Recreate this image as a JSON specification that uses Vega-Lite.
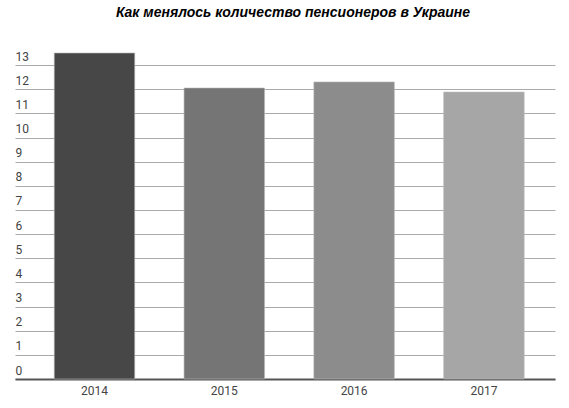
{
  "$schema": "https://vega.github.io/schema/vega-lite/v6.json",
  "autosize": {"type": "none"},
  "width": 540,
  "height": 326,
  "padding": {"left": 15, "top": 53, "right": 14, "bottom": 29},
  "background": "white",
  "title": {
    "text": "Как менялось количество пенсионеров в Украине",
    "font": "Liberation Sans",
    "fontSize": 14,
    "fontWeight": "bold",
    "fontStyle": "italic",
    "color": "#000000",
    "anchor": "middle",
    "offset": 30,
    "dx": 8
  },
  "data": {
    "values": [
      {"year": "2014", "value": 13.5, "shade": "a"},
      {"year": "2015", "value": 12.05, "shade": "b"},
      {"year": "2016", "value": 12.3, "shade": "c"},
      {"year": "2017", "value": 11.88, "shade": "d"}
    ]
  },
  "config": {"view": {"stroke": null}},
  "mark": {"type": "bar", "stroke": "#b8b8b8", "strokeWidth": 1, "strokeOpacity": 0.6},
  "encoding": {
    "x": {
      "field": "year",
      "type": "nominal",
      "scale": {"paddingInner": 0.38, "paddingOuter": 0.27, "align": 0.56},
      "axis": {
        "title": null,
        "labelAngle": 0,
        "ticks": false,
        "domain": true,
        "domainColor": "#555555",
        "domainWidth": 2,
        "labelFont": "Roboto",
        "labelFontSize": 12,
        "labelColor": "#444444",
        "labelPadding": 6
      }
    },
    "y": {
      "field": "value",
      "type": "quantitative",
      "scale": {"domain": [0, 13.5], "nice": false},
      "axis": {
        "title": null,
        "values": [0, 1, 2, 3, 4, 5, 6, 7, 8, 9, 10, 11, 12, 13],
        "domain": false,
        "ticks": false,
        "grid": true,
        "gridColor": "#aaaaaa",
        "gridWidth": 1,
        "labelAlign": "left",
        "labelBaseline": "bottom",
        "labelOffset": -2,
        "labelPadding": 0,
        "labelFlush": false,
        "labelFont": "Roboto",
        "labelFontSize": 12,
        "labelColor": "#444444"
      }
    },
    "color": {
      "field": "shade",
      "type": "nominal",
      "scale": {"domain": ["a", "b", "c", "d"], "range": ["#474747", "#757575", "#8c8c8c", "#a6a6a6"]},
      "legend": null
    }
  }
}
